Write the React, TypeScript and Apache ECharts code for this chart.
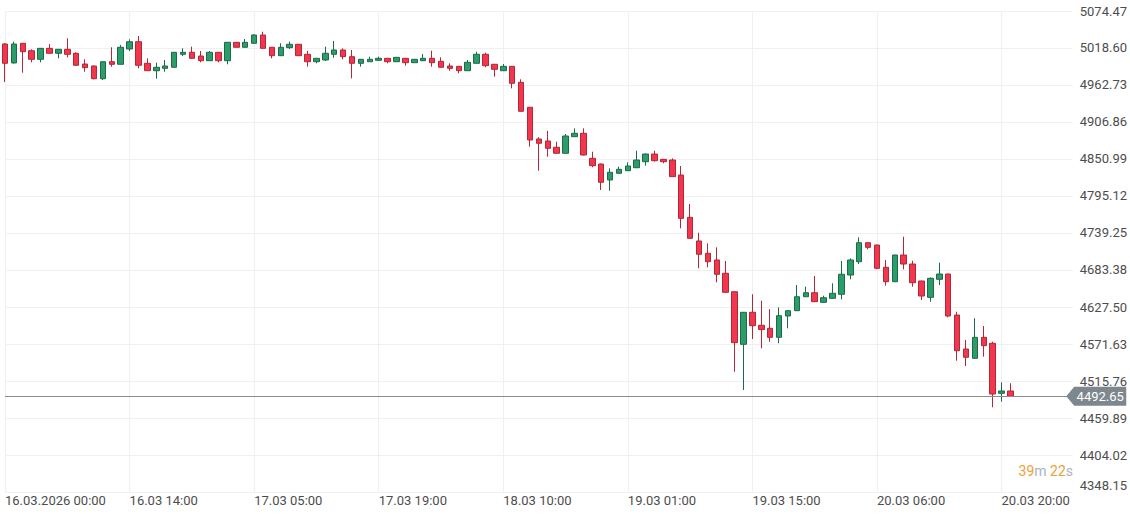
import React, { useEffect, useRef } from 'react';
import * as echarts from 'echarts';

// ---- data ----
const yTicks = [4348.15, 4404.02, 4459.89, 4515.76, 4571.63, 4627.5, 4683.38, 4739.25, 4795.12, 4850.99, 4906.86, 4962.73, 5018.6, 5074.47];
const lastPrice = 4492.65;
const countdownMinutes = '39';
const countdownSeconds = '22';

const opens = [
  5024.6, 4996.0, 5025.7, 5014.5, 5001.5, 5018.1, 5010.6, 5016.6, 5010.6, 4994.4,
  4991.4, 4972.2, 4997.9, 4994.0, 5017.1, 5028.1, 4995.5, 4984.3, 4987.9, 4989.5,
  5009.1, 5012.1, 5006.5, 4999.4, 5012.1, 4999.4, 5027.2, 5019.7, 5025.7, 5038.2,
  5019.7, 5007.0, 5019.1, 5024.2, 5009.1, 4997.9, 5000.5, 5009.1, 5015.6, 5005.5,
  4995.5, 4997.9, 5000.0, 5003.0, 4997.9, 5003.0, 4996.4, 4999.4, 5003.0, 4998.5,
  4991.4, 4990.9, 4984.3, 4995.5, 5009.1, 4994.0, 4984.3, 4990.9, 4966.8, 4929.1,
  4881.2, 4878.2, 4868.7, 4859.6, 4884.7, 4889.8, 4852.0, 4843.4, 4819.3, 4829.4,
  4833.3, 4837.8, 4846.9, 4858.5, 4850.5, 4849.5, 4826.8, 4762.9, 4727.2, 4708.6,
  4698.5, 4678.4, 4650.6, 4571.2, 4619.5, 4599.9, 4595.3, 4581.7, 4613.9, 4621.9,
  4643.0, 4649.1, 4634.6, 4640.6, 4646.7, 4675.8, 4695.9, 4724.6, 4721.1, 4687.5,
  4665.7, 4706.0, 4692.4, 4666.8, 4642.1, 4669.3, 4677.3, 4615.4, 4564.1, 4550.0,
  4581.7, 4572.7, 4497.2, 4500.7,
];
const closes = [
  4995.5, 5024.6, 5013.0, 5001.5, 5018.1, 5010.6, 5016.6, 5009.1, 4992.5, 4988.9,
  4972.2, 4997.9, 4994.0, 5019.7, 5028.1, 4992.5, 4984.3, 4989.5, 4991.4, 5012.1,
  5012.1, 5003.0, 4999.4, 5012.1, 4999.4, 5027.2, 5019.7, 5027.2, 5038.2, 5018.1,
  5007.0, 5019.7, 5024.2, 5007.0, 4997.9, 5003.0, 5010.6, 5015.6, 5005.5, 4995.5,
  5001.5, 5001.5, 5003.0, 4997.9, 5004.5, 4996.4, 5001.5, 5003.0, 4996.4, 4989.5,
  4987.9, 4984.3, 4997.0, 5009.1, 4991.9, 4986.4, 4990.9, 4965.3, 4923.0, 4879.7,
  4874.7, 4867.1, 4859.6, 4885.7, 4889.8, 4857.0, 4840.9, 4815.8, 4830.9, 4835.4,
  4840.4, 4849.5, 4858.5, 4848.4, 4846.9, 4824.3, 4761.4, 4731.2, 4707.1, 4695.9,
  4676.9, 4649.7, 4573.7, 4619.5, 4599.3, 4593.5, 4581.7, 4614.4, 4621.9, 4643.0,
  4649.1, 4635.5, 4641.5, 4648.2, 4676.9, 4698.5, 4724.6, 4717.6, 4685.9, 4665.7,
  4706.0, 4692.4, 4664.2, 4644.1, 4670.8, 4677.3, 4613.9, 4561.5, 4551.6, 4581.7,
  4569.1, 4496.1, 4500.7, 4492.65,
];
const lows = [
  4967.3, 4995.2, 4981.3, 4997.0, 4997.0, 5010.3, 5003.0, 5004.5, 4992.2, 4982.8,
  4971.3, 4970.3, 4990.4, 4993.7, 5014.1, 4987.9, 4983.9, 4972.2, 4982.8, 4989.2,
  5006.5, 5002.7, 4997.0, 4999.0, 4997.0, 4994.0, 5019.3, 5019.3, 5025.4, 5017.8,
  5003.0, 5006.5, 5017.1, 5006.5, 4990.4, 4995.5, 4999.0, 5003.9, 5001.5, 4972.8,
  4990.4, 4997.5, 4999.7, 4995.5, 4997.5, 4991.9, 4996.0, 4999.0, 4990.4, 4989.2,
  4984.3, 4980.4, 4983.9, 4995.2, 4989.5, 4975.3, 4983.9, 4957.7, 4922.7, 4869.6,
  4833.3, 4854.5, 4859.3, 4859.3, 4884.2, 4856.3, 4838.5, 4804.2, 4803.1, 4829.1,
  4832.9, 4837.4, 4840.9, 4847.0, 4844.5, 4823.8, 4746.3, 4730.9, 4685.9, 4687.5,
  4664.8, 4649.4, 4529.8, 4502.2, 4579.2, 4565.1, 4575.1, 4572.7, 4595.3, 4621.5,
  4642.6, 4635.0, 4633.5, 4639.6, 4639.1, 4669.3, 4692.4, 4714.6, 4684.4, 4659.7,
  4665.3, 4684.4, 4658.2, 4638.1, 4635.5, 4660.7, 4611.9, 4546.4, 4538.4, 4549.7,
  4552.5, 4476.1, 4484.5, 4492.0,
];
const highs = [
  5026.1, 5028.1, 5026.1, 5016.6, 5018.6, 5024.6, 5017.1, 5033.3, 5012.1, 5001.5,
  4992.2, 4998.2, 5019.7, 5023.1, 5031.7, 5036.7, 5003.0, 4996.4, 5000.5, 5012.6,
  5018.1, 5020.6, 5014.1, 5014.1, 5012.6, 5027.7, 5027.7, 5032.2, 5039.3, 5043.2,
  5020.1, 5025.7, 5028.1, 5024.6, 5014.1, 5003.5, 5020.6, 5029.2, 5018.1, 5015.6,
  5002.0, 5005.5, 5005.5, 5003.5, 5005.0, 5003.5, 5002.0, 5009.5, 5014.5, 5004.5,
  4995.5, 4991.4, 5000.5, 5013.0, 5011.5, 4994.4, 4994.4, 4991.4, 4971.3, 4929.5,
  4883.8, 4893.3, 4877.1, 4888.7, 4897.3, 4897.3, 4862.0, 4844.2, 4836.9, 4839.4,
  4846.0, 4863.5, 4859.3, 4863.5, 4851.0, 4852.0, 4840.4, 4783.0, 4739.7, 4723.7,
  4717.6, 4697.0, 4650.9, 4620.0, 4646.7, 4637.0, 4624.2, 4627.0, 4622.2, 4660.7,
  4658.2, 4674.3, 4644.6, 4663.3, 4697.0, 4701.0, 4732.7, 4724.9, 4721.6, 4698.5,
  4706.5, 4733.7, 4697.4, 4667.2, 4672.3, 4694.4, 4677.8, 4620.4, 4577.7, 4610.5,
  4598.8, 4575.1, 4513.8, 4512.3,
];

// hourly session times (daily break at 23:00), including a few empty future slots
const TOTAL_SLOTS = 121;
const pad = (n: number) => (n < 10 ? '0' + n : '' + n);
const categories: string[] = [];
{
  let day = 16;
  let hour = 0;
  while (categories.length < TOTAL_SLOTS) {
    if (hour !== 23) categories.push(`${pad(day)}.03.2026 ${pad(hour)}:00`);
    hour++;
    if (hour === 24) {
      hour = 0;
      day++;
    }
  }
}

const candleData = opens.map((o, i) => [o, closes[i], lows[i], highs[i]]);

export default function App() {
  const ref = useRef<HTMLDivElement>(null);
  useEffect(() => {
    if (!ref.current) return;
    const chart = echarts.init(ref.current, null, { renderer: 'svg' });
    const labelColor = '#4d4d4d';
    chart.setOption({
      animation: false,
      backgroundColor: '#ffffff',
      textStyle: { fontFamily: 'Roboto, sans-serif' },
      grid: { left: 5, right: 53.5, top: 11, bottom: 22, containLabel: false },
      xAxis: {
        type: 'category',
        data: categories,
        boundaryGap: false,
        axisLine: { show: false },
        axisTick: { show: false },
        axisLabel: {
          interval: 13,
          align: 'left',
          margin: 2,
          color: labelColor,
          fontSize: 13,
          formatter: (v: string, i: number) => (i === 0 ? v : v.replace('.2026', '')),
        },
        splitLine: { show: true, interval: 13, lineStyle: { color: '#f0f0f0', width: 1 } },
      },
      yAxis: {
        type: 'value',
        position: 'right',
        min: yTicks[0],
        max: yTicks[yTicks.length - 1],
        axisLine: { show: false },
        axisTick: { show: false, customValues: yTicks },
        axisLabel: {
          customValues: yTicks,
          formatter: (v: number) => v.toFixed(2),
          color: labelColor,
          fontSize: 13,
          margin: 7,
          verticalAlignMinLabel: 'bottom',
        },
        splitLine: { show: true, lineStyle: { color: '#f0f0f0', width: 1 } },
      },
      series: [
        {
          type: 'candlestick',
          data: candleData,
          barWidth: 6,
          clip: false,
          itemStyle: {
            color: '#2b9d6b',
            borderColor: '#1c6a48',
            color0: '#f2364b',
            borderColor0: '#b0283a',
            borderWidth: 1,
          },
          markLine: {
            silent: true,
            symbol: ['none', 'none'],
            data: [{ yAxis: lastPrice }],
            lineStyle: { color: '#8c8c8c', width: 1, type: 'solid' },
            label: { show: false },
          },
          markPoint: {
            silent: true,
            data: [
              {
                coord: [categories[TOTAL_SLOTS - 1], lastPrice],
                symbol: 'path://M0,10L8,0L60,0L60,20L8,20Z',
                symbolSize: [60, 19],
                symbolOffset: [23.5, 0],
                itemStyle: { color: '#7e878e' },
                label: {
                  show: true,
                  position: 'inside',
                  offset: [4, 0],
                  color: '#ffffff',
                  fontSize: 13,
                  formatter: () => lastPrice.toFixed(2),
                },
              },
            ],
          },
        },
      ],
      graphic: [
        {
          type: 'text',
          right: 57,
          top: 464,
          style: {
            text: `{o|${countdownMinutes}}{g|m} {o|${countdownSeconds}}{g|s}`,
            fontSize: 14,
            fontFamily: 'Roboto, sans-serif',
            rich: {
              o: { fill: '#f0a030', color: '#f0a030', fontSize: 14, fontFamily: 'Roboto, sans-serif' },
              g: { fill: '#a9b4c2', color: '#a9b4c2', fontSize: 14, fontFamily: 'Roboto, sans-serif' },
            },
          },
        },
      ],
    });
    return () => chart.dispose();
  }, []);
  return (
    <div
      ref={ref}
      style={{ position: 'absolute', left: 0, top: 0, width: 1130, height: 514, background: '#fff' }}
    />
  );
}
